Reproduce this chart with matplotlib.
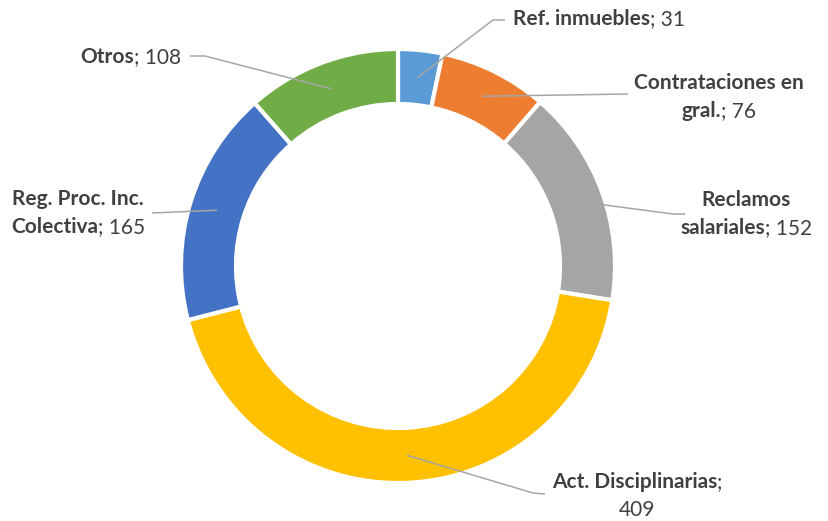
import matplotlib.pyplot as plt
import numpy as np

# data
categories = ['Ref. inmuebles', 'Contrataciones en gral.', 'Reclamos salariales',
              'Act. Disciplinarias', 'Reg. Proc. Inc. Colectiva', 'Otros']
values = [31, 76, 152, 409, 165, 108]
colors = ['#5B9BD5', '#ED7D31', '#A5A5A5', '#FFC000', '#4472C4', '#70AD47']

# label text split into lines: list of (text, bold) segments per line
label_lines = [
    [[('Ref. inmuebles', True), ('; 31', False)]],
    [[('Contrataciones en', True)], [('gral.', True), ('; 76', False)]],
    [[('Reclamos', True)], [('salariales', True), ('; 152', False)]],
    [[('Act. Disciplinarias', True), (';', False)], [('409', False)]],
    [[('Reg. Proc. Inc.', True)], [('Colectiva', True), ('; 165', False)]],
    [[('Otros', True), ('; 108', False)]],
]

# layout (pixel coords, y measured from top)
W, H = 829, 521
CX, CY = 398, 266
R_OUT, R_IN = 217, 162
# (anchor x, first line y, alignment), leader elbow and end points
label_pos = [(513, 19, 'left'), (719, 83, 'center'), (746, 200, 'center'),
             (637, 482, 'center'), (78, 199, 'center'), (181, 57, 'right')]
leader_pts = [[(493, 20), (505, 20)], [(628, 94)], [(673, 214), (685, 214)],
              [(533, 493), (545, 494)], [(152, 213)], [(205, 56), (190, 56)]]

FONT = 'Lato'
FS = 15
TXT = '#404040'
LINE_H = 28

fig = plt.figure(figsize=(W / 100, H / 100), dpi=100)
ax = fig.add_axes([0, 0, 1, 1])
ax.set_xlim(0, W)
ax.set_ylim(0, H)
ax.set_aspect('equal')
ax.axis('off')

wedges, _ = ax.pie(values, colors=colors, startangle=90, counterclock=False,
                   center=(CX, H - CY), radius=R_OUT,
                   wedgeprops=dict(width=R_OUT - R_IN, edgecolor='white', linewidth=3))
ax.set_xlim(0, W)
ax.set_ylim(0, H)

renderer = fig.canvas.get_renderer()


def seg_width(s, bold):
    t = ax.text(0, 0, s, fontsize=FS, family=FONT, fontweight='bold' if bold else 'normal')
    w = t.get_window_extent(renderer).width
    t.remove()
    return w


# leader lines
r_mid = (R_OUT + R_IN) / 2
for w, pts in zip(wedges, leader_pts):
    ang = np.deg2rad((w.theta1 + w.theta2) / 2)
    x0 = CX + r_mid * np.cos(ang)
    y0 = CY - r_mid * np.sin(ang)
    xs = [x0] + [p[0] for p in pts]
    ys = [H - y0] + [H - p[1] for p in pts]
    ax.plot(xs, ys, color='#A6A6A6', lw=1.1, zorder=5, solid_capstyle='butt')

# labels
for lines, (lx, ly, align) in zip(label_lines, label_pos):
    for i, segs in enumerate(lines):
        widths = [seg_width(s, b) for s, b in segs]
        total = sum(widths)
        if align == 'left':
            x = lx
        elif align == 'right':
            x = lx - total
        else:
            x = lx - total / 2
        y = H - (ly + i * LINE_H)
        for (s, b), wd in zip(segs, widths):
            ax.text(x, y, s, fontsize=FS, family=FONT, color=TXT,
                    fontweight='bold' if b else 'normal', ha='left', va='center')
            x += wd

fig.savefig('out.png', dpi=100)
